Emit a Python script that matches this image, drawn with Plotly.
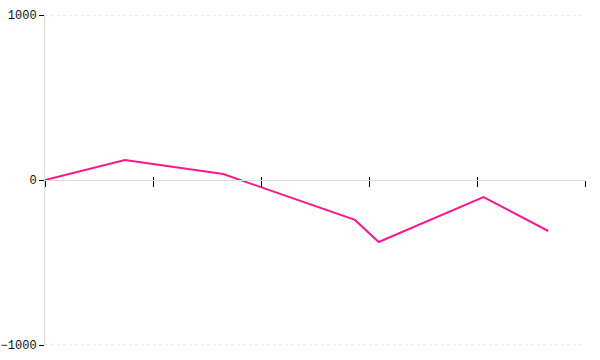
import plotly.graph_objects as go

x_values = [0, 0.74, 1.65, 2.87, 3.09, 4.06, 4.66]
y_values = [0, 121, 36, -242, -376, -103, -309]
y_ticks = [-1000, 0, 1000]
y_tick_labels = ["\u22121000", "0", "1000"]
grid_values = [-1000, 1000]

fig = go.Figure()
# helper trace so the overlay x axis (inner tick halves) is drawn
fig.add_trace(go.Scatter(x=x_values, y=y_values, mode="lines",
                         line=dict(color="rgba(0,0,0,0)", width=0),
                         xaxis="x2", yaxis="y",
                         hoverinfo="skip", showlegend=False))
fig.add_trace(go.Scatter(x=x_values, y=y_values, mode="lines",
                         line=dict(color="#f81a8d", width=2),
                         hoverinfo="skip", showlegend=False))

for gv in grid_values:
    fig.add_shape(type="line", xref="paper", yref="y", x0=0, x1=1, y0=gv, y1=gv,
                  line=dict(color="#d8d8d8", width=1, dash="dot"), layer="below")

font = dict(family="Liberation Mono", size=12, color="#111")

fig.update_layout(
    width=600, height=360,
    margin=dict(l=45, r=15, t=15, b=15, autoexpand=False),
    plot_bgcolor="white", paper_bgcolor="white",
    font=font,
    xaxis=dict(range=[0, 5], dtick=1, tick0=0, showgrid=False, zeroline=False,
               showticklabels=False, ticks="outside", ticklen=6, tickcolor="#000",
               tickwidth=1, showline=True, linecolor="#dddddd", linewidth=1,
               anchor="free", position=0.5, automargin=False),
    xaxis2=dict(range=[0, 5], dtick=1, tick0=0, showgrid=False, zeroline=False,
                showticklabels=False, ticks="inside", ticklen=3, tickcolor="#000",
                tickwidth=1, showline=False, overlaying="x",
                anchor="free", position=0.5, side="bottom", automargin=False),
    yaxis=dict(range=[-1000, 1000], tickvals=y_ticks, ticktext=y_tick_labels,
               showgrid=False, zeroline=False, ticks="outside", ticklen=5,
               tickcolor="#000", showline=True, linecolor="#dddddd", linewidth=1,
               tickfont=font, automargin=False),
)

fig.write_html("out.html")
